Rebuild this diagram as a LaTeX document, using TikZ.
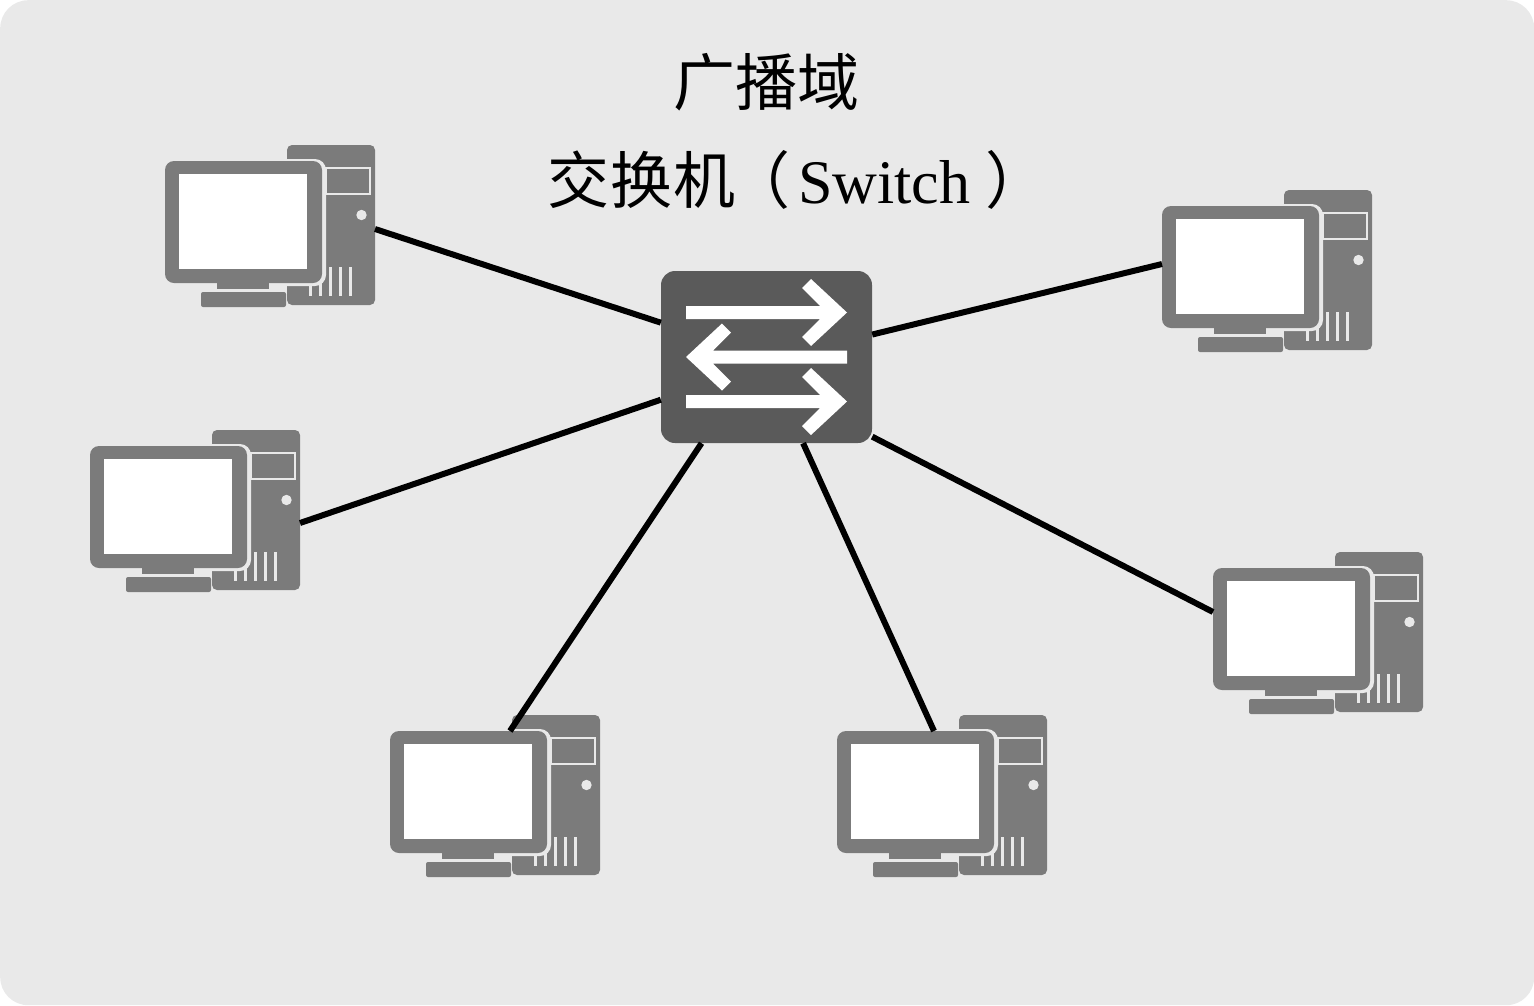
\documentclass[tikz,border=0pt]{standalone}
\usepackage{fontspec}
\setmainfont{Liberation Serif}
\newfontfamily\cjk{Noto Sans CJK SC}
\definecolor{bgc}{HTML}{E9E9E9}
\definecolor{pcc}{HTML}{7B7B7B}
\definecolor{swc}{HTML}{5A5A5A}
\tikzset{
  x=1pt,y=-1pt,
  partbox/.style={rectangle,inner sep=0pt,outer sep=0pt,anchor=north west,fill=pcc},
  wire/.style={line width=6pt,black},
  title/.style={inner sep=0pt,font=\fontsize{62}{70}\selectfont,black},
  pcicon/.pic={
    \node[partbox,minimum width=88pt,minimum height=160pt,rounded corners=5pt] (-tower) at (122,-16) {};
    \draw[bgc,line width=2pt] (161,7) rectangle (205,33);
    \fill[bgc] (196.5,54) circle (5.2pt);
    \foreach \vx in {145.7,155.7,165.7,175.7,185.7}
      \draw[bgc,line width=2.6pt] (\vx,106) -- (\vx,135);
    \fill[bgc,rounded corners=11pt] (-2,-2) rectangle (161,125);
    \node[partbox,minimum width=157pt,minimum height=122pt,rounded corners=9pt] (-mon) at (0,0) {};
    \node[partbox,fill=white,minimum width=128pt,minimum height=95pt] (-scr) at (14,13) {};
    \node[partbox,minimum width=52pt,minimum height=6pt] (-stand) at (52,122) {};
    \node[partbox,minimum width=85pt,minimum height=15pt,rounded corners=2pt] (-base) at (36,131) {};
  },
  sharrow/.pic={
    \fill[white] (0,-6.5) -- (134,-6.5) -- (116,-24.5) -- (125,-33.5) -- (161,0) -- (125,33.5) -- (116,24.5) -- (134,6.5) -- (0,6.5) -- cycle;
  }
}
\begin{document}
\begin{tikzpicture}
\useasboundingbox (0,0) rectangle (1534,1005);
\node[rectangle,fill=bgc,rounded corners=28pt,inner sep=0pt,anchor=north west,minimum width=1534pt,minimum height=1005pt] (panel) at (0,0) {};

\node[title] (t1) at (766,82) {\cjk 广播域};
\node[title,anchor=base west] (t2) at (547,203) {{\cjk 交\hspace{1pt}换\hspace{1pt}机\hspace{-7pt}（}\hspace{8pt}Switch\hspace{15pt}{\cjk ）}};

\pic (pc1) at (165,161) {pcicon};
\pic (pc2) at (90,446) {pcicon};
\pic (pc3) at (390,731) {pcicon};
\pic (pc4) at (837,731) {pcicon};
\pic (pc5) at (1213,568) {pcicon};
\pic (pc6) at (1162,206) {pcicon};

\coordinate (p1) at (375,229);
\coordinate (p2) at (300,523);
\coordinate (p3) at (510,731);
\coordinate (p4) at (934,731);
\coordinate (p5) at (1213,612);
\coordinate (p6) at (1162,264);

\node[rectangle,fill=swc,rounded corners=14pt,inner sep=0pt,minimum width=211pt,minimum height=172pt] (sw) at (766.5,357) {};
\pic at (686,312.5) {sharrow};
\pic[xscale=-1] at (847,357) {sharrow};
\pic at (686,401.5) {sharrow};

\draw[wire] (sw.162.6) -- (p1);
\draw[wire] (sw.202.6) -- (p2);
\draw[wire] (sw.233.6) -- (p3);
\draw[wire] (sw.293.6) -- (p4);
\draw[wire] (sw.323.7) -- (p5);
\draw[wire] (sw.12.3) -- (p6);
\end{tikzpicture}
\end{document}
